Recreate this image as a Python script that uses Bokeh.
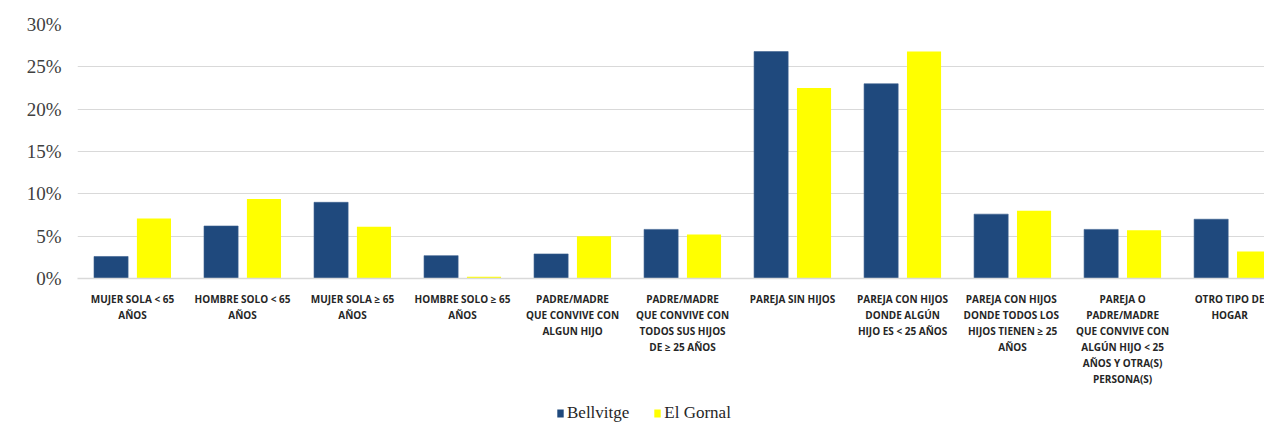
from bokeh.plotting import figure
from bokeh.layouts import column
from bokeh.models import (Range1d, FixedTicker, PrintfTickFormatter, Legend,
                          LegendItem, ColumnDataSource)
from bokeh.transform import dodge
from bokeh.embed import file_html
from bokeh.resources import INLINE

categories = [
    "MUJER SOLA < 65\nAÑOS",
    "HOMBRE SOLO < 65\nAÑOS",
    "MUJER SOLA ≥ 65\nAÑOS",
    "HOMBRE SOLO ≥ 65\nAÑOS",
    "PADRE/MADRE\nQUE CONVIVE CON\nALGUN HIJO",
    "PADRE/MADRE\nQUE CONVIVE CON\nTODOS SUS HIJOS\nDE ≥ 25 AÑOS",
    "PAREJA SIN HIJOS",
    "PAREJA CON HIJOS\nDONDE ALGÚN\nHIJO ES < 25 AÑOS",
    "PAREJA  CON HIJOS\nDONDE TODOS  LOS\nHIJOS TIENEN ≥ 25\nAÑOS",
    "PAREJA O\nPADRE/MADRE\nQUE CONVIVE CON\nALGÚN HIJO < 25\nAÑOS Y OTRA(S)\nPERSONA(S)",
    "OTRO TIPO DE\nHOGAR",
]
bellvitge = [2.6, 6.2, 9.0, 2.7, 2.9, 5.8, 26.8, 23.0, 7.6, 5.8, 7.0]
el_gornal = [7.1, 9.4, 6.1, 0.2, 5.0, 5.2, 22.5, 26.8, 8.0, 5.7, 3.2]
y_ticks = [0, 5, 10, 15, 20, 25, 30]
series_names = ["Bellvitge", "El Gornal"]
series_colors = ["#1F497D", "#FFFF00"]

positions = list(range(len(categories)))
src = ColumnDataSource(dict(x=positions, b=bellvitge, g=el_gornal))

p = figure(width=1264, height=400, output_backend="svg", toolbar_location=None,
           x_range=Range1d(-0.5, 10.29), y_range=Range1d(0, 30),
           min_border_left=77, min_border_top=24, min_border_right=0,
           min_border_bottom=122)
p.outline_line_color = None
p.background_fill_color = "white"
p.border_fill_color = "white"

rb = p.vbar(x=dodge("x", -0.195, range=p.x_range), top="b", width=0.31,
            source=src, fill_color=series_colors[0], line_color="#3A5F8F", line_width=0.6)
rg = p.vbar(x=dodge("x", 0.195, range=p.x_range), top="g", width=0.31,
            source=src, fill_color=series_colors[1], line_color=None)

# axes
p.xaxis.ticker = FixedTicker(ticks=positions)
p.xaxis.major_label_overrides = {i: c for i, c in zip(positions, categories)}
p.xaxis.major_label_text_font = "Open Sans"
p.xaxis.major_label_text_font_style = "bold"
p.xaxis.major_label_text_font_size = "10px"
p.xaxis.major_label_text_color = "#262626"
p.xaxis.major_label_text_line_height = 1.15
p.xaxis.major_label_standoff = 7
p.xaxis.major_tick_line_color = None
p.xaxis.minor_tick_line_color = None
p.xaxis.axis_line_color = "#d9d9d9"
p.xaxis.axis_line_width = 1.5

p.yaxis.ticker = FixedTicker(ticks=y_ticks)
p.yaxis.formatter = PrintfTickFormatter(format="%d%%")
p.yaxis.major_label_text_font = "Liberation Serif"
p.yaxis.major_label_text_font_size = "19px"
p.yaxis.major_label_text_color = "#404040"
p.yaxis.major_label_standoff = 10
p.yaxis.major_tick_line_color = None
p.yaxis.minor_tick_line_color = None
p.yaxis.axis_line_color = None

p.xgrid.grid_line_color = None
p.ygrid.ticker = FixedTicker(ticks=y_ticks)
p.ygrid.grid_line_color = "#d9d9d9"
p.ygrid.grid_line_width = 1.2

# legend strip below the chart
lp = figure(width=1264, height=24, output_backend="svg", toolbar_location=None,
            x_range=Range1d(0, 1), y_range=Range1d(0, 1), min_border=0)
lp.axis.visible = False
lp.grid.visible = False
lp.outline_line_color = None
lb = lp.vbar(x="x", top="b", width=0.31, source=src,
             fill_color=series_colors[0], line_color=None, visible=False)
lg = lp.vbar(x="x", top="g", width=0.31, source=src,
             fill_color=series_colors[1], line_color=None, visible=False)
legend = Legend(items=[LegendItem(label=series_names[0], renderers=[lb]),
                       LegendItem(label=series_names[1], renderers=[lg])],
                orientation="horizontal", location=(479, 1),
                padding=0, margin=0, spacing=24, glyph_width=8, glyph_height=10,
                label_standoff=3, label_height=18,
                label_text_font="Liberation Serif", label_text_font_size="17px",
                label_text_color="#262626", border_line_color=None,
                background_fill_alpha=0, inactive_fill_alpha=0)
lp.add_layout(legend, "center")

open("out.html", "w").write(file_html(column(p, lp, spacing=0), INLINE))
